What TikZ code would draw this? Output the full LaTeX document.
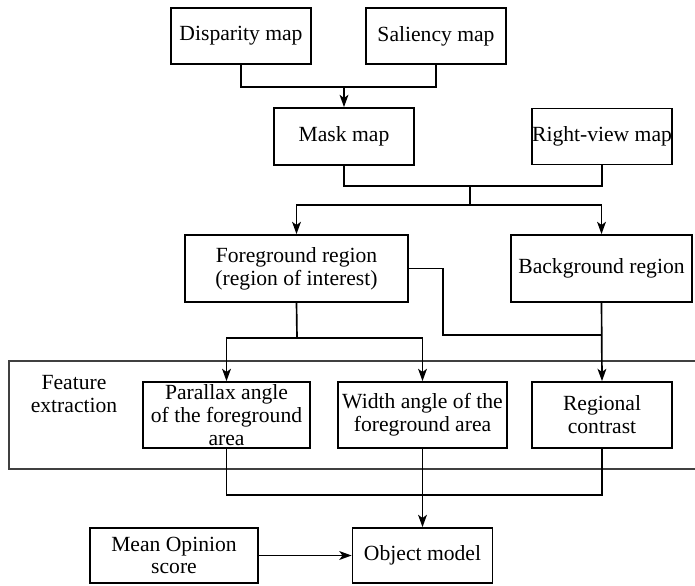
\documentclass[tikz,border=0pt]{standalone}
\usepackage{fontspec}
\setmainfont{Liberation Serif}
\newfontfamily\boxfont{Liberation Serif}
\usetikzlibrary{arrows.meta}
\begin{document}
\begin{tikzpicture}[x=0.02cm,y=-0.02cm,line width=0.95pt,
        lbl/.style={align=center,font=\boxfont\fontsize{12.3}{13}\selectfont},
        box/.style={lbl,draw,line width=1pt,inner sep=0pt},
        arr/.style={-{Stealth[length=7pt,width=5pt,inset=1.8pt]}}]
        \useasboundingbox (0,0) rectangle (695,585);
        \foreach \x/\y/\w/\h/\n/\l in {241/36/140/56/disp/{Disparity map},436/36/140/56/sal/{Saliency map},
            344/136.5/140/57/mask/{Mask map},602/136.5/140/56/right/{Right-view map},
            296.5/268.5/223/67/fg/{Foreground region\\(region of interest)},601.5/268.5/181/67/bg/{Background region},
            226.5/415/167/66/par/{Parallax angle\\of the foreground\\area},422.5/415/169/66/wid/{Width angle of the\\foreground area},
            602/415/140/66/reg/{Regional\\contrast},174/555.5/168/55/mos/{Mean Opinion\\score},422.5/555.5/140/55/obj/{Object model}}{
            \node[box,minimum width=\w*0.02cm,minimum height=\h*0.02cm] (\n) at (\x,\y) {\l};
        }
        % feature extraction frame
        \draw[black!75] (695,361) -- (9,361) -- (9,469) -- (695,469);
        \node[lbl] (feat) at (74,394) {Feature\\extraction};
        % junctions
        \foreach \n/\x/\y in {j1/344/87,j2/470/186,j3/470/205,j4/297/338,j5/443/335,j6/422.5/495}{
            \coordinate (\n) at (\x,\y);
        }
        \draw[] (disp.south) |- (j1) -| (sal.south);
        \draw[arr] (j1) -- (mask.north);
        \draw[] (mask.south) |- (j2) -| (right.south);
        \draw[] (j2) -- (j3);
        \draw[arr] (j3) -| (fg.north);
        \draw[arr] (j3) -| (bg.north);
        \draw[] (fg.south) -- (j4);
        \draw[arr] (j4) -| (par.north);
        \draw[arr] (j4) -| (wid.north);
        \draw[] (fg.east) -| (j5) -- (j5 -| bg.south);
        \draw[arr] (bg.south) -- (reg.north);
        \draw[] (par.south) |- (j6) -| (reg.south);
        \draw[arr] (wid.south) -- (obj.north);
        \draw[arr] (mos) -- (obj);
    \end{tikzpicture}
\end{document}
